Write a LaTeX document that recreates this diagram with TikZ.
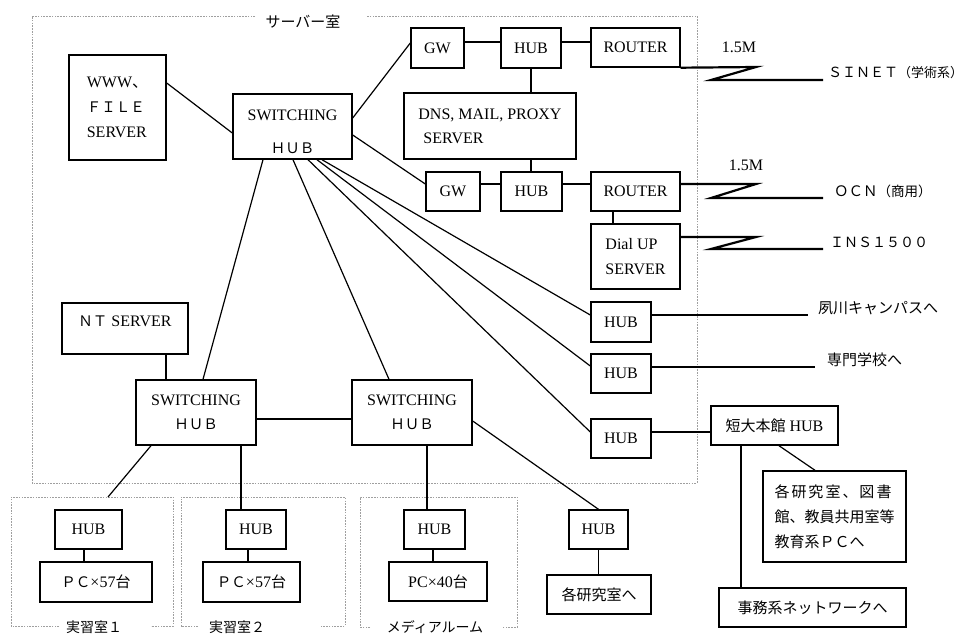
\documentclass[tikz,border=0pt]{standalone}
\usepackage{fontspec}
\setmainfont{Liberation Serif}
\newfontfamily\jp{Noto Sans CJK JP}
\newcommand\latsz{\fontsize{16}{26}\selectfont}
\newcommand\jpsz{\jp\fontsize{15}{24}\selectfont}
\newcommand\fw[1]{{\jp\fontsize{14.5}{26}\selectfont #1}}
\begin{document}
\begin{tikzpicture}[x=1pt,y=-1pt,
  box/.style={draw, line width=1.4pt, inner sep=0pt, align=center, font=\latsz},
  link/.style={line width=1.2pt},
  zig/.style={line width=2.2pt, line join=miter},
  room/.style={draw=gray!75, line width=0.8pt, dash pattern=on 1.6pt off 1.2pt},
  jtxt/.style={inner sep=0pt, font=\jpsz},
  rtxt/.style={inner sep=0pt, font=\jp\fontsize{14}{18}\selectfont},
  ltxt/.style={inner sep=0pt, font=\latsz}]
\useasboundingbox (0,0) rectangle (967,637);

% rooms
\draw[room] (255,16) -- (32,16) -- (32,483) -- (697,483) -- (697,16) -- (367,16);
\draw[room] (59,626) -- (11,626) -- (11,497) -- (173,497) -- (173,626) -- (151,626);
\draw[room] (198,626) -- (181,626) -- (181,497) -- (345,497) -- (345,626) -- (321,626);
\draw[room] (370,627) -- (360,627) -- (360,497) -- (517,497) -- (517,627) -- (503,627);
\node[jtxt] (rsrv) at (303,22) {サーバー室};
\node[rtxt] (rlab1) at (94,627) {実習室１};
\node[rtxt] (rlab2) at (237,627) {実習室２};
\node[rtxt] (rlab3) at (435,627) {メディアルーム};

% boxes
\node[box, minimum width=97, minimum height=105, align=left, font=\fontsize{16}{25}\selectfont] (www) at (117.5,107.5) {WWW{\jp 、}\\\fw{ＦＩＬＥ}\\SERVER};
\node[box, minimum width=119, minimum height=65] (sw0) at (292.5,126.5) {\rule{0pt}{21pt}SWITCHING\\[7pt]\fw{ＨＵＢ}};
\node[box, minimum width=53, minimum height=40] (gw1) at (437.5,48) {GW};
\node[box, minimum width=60, minimum height=40] (hub1) at (531,48) {HUB};
\node[box, minimum width=89, minimum height=39] (rt1) at (635.5,47.5) {ROUTER};
\node[box, minimum width=172, minimum height=66, align=left] (dns) at (490,126) {DNS, MAIL, PROXY\\[-2pt]\hspace*{5pt}SERVER};
\node[box, minimum width=54, minimum height=39] (gw2) at (453,191.5) {GW};
\node[box, minimum width=61, minimum height=39] (hub2) at (531.5,191.5) {HUB};
\node[box, minimum width=89, minimum height=39] (rt2) at (635.5,191.5) {ROUTER};
\node[box, minimum width=89, minimum height=65, align=left] (dial) at (635.5,256.5) {Dial UP\\[-1pt]SERVER};
\node[box, minimum width=126, minimum height=51, text depth=14pt] (nt) at (125,328.5) {\fw{ＮＴ} SERVER};
\node[box, minimum width=120, minimum height=65] (swl) at (196,412.5) {SWITCHING\\[-2pt]\fw{ＨＵＢ}};
\node[box, minimum width=120, minimum height=65] (swm) at (412,412.5) {SWITCHING\\[-2pt]\fw{ＨＵＢ}};
\node[box, minimum width=60, minimum height=40] (huba) at (621,322) {HUB};
\node[box, minimum width=60, minimum height=39] (hubb) at (621,373.5) {HUB};
\node[box, minimum width=60, minimum height=39] (hubc) at (621,438.5) {HUB};
\node[box, minimum width=127, minimum height=39] (tandai) at (774.5,425.5) {{\jpsz 短大本館}\ HUB};
\node[box, minimum width=67, minimum height=39] (hubl1) at (88.5,529.5) {HUB};
\node[box, minimum width=112, minimum height=40] (pc1) at (96,582) {\fw{ＰＣ}×57{\jpsz 台}};
\node[box, minimum width=60, minimum height=39] (hubl2) at (256,529.5) {HUB};
\node[box, minimum width=97, minimum height=40] (pc2) at (251.5,582) {\fw{ＰＣ}×57{\jpsz 台}};
\node[box, minimum width=61, minimum height=39] (hubl3) at (434.5,529.5) {HUB};
\node[box, minimum width=98, minimum height=39] (pc3) at (438,581.5) {PC×40{\jpsz 台}};
\node[box, minimum width=59, minimum height=39] (hubk) at (598.5,529.5) {HUB};
\node[box, minimum width=104, minimum height=39, font=\jpsz] (kaku) at (599,594.5) {各研究室へ};
\node[box, minimum width=143, minimum height=91, align=left, font=\jpsz] (edu) at (834.5,516.5) {各\kern2pt 研\kern2pt 究\kern2pt 室\kern2pt 、\kern2pt 図\kern2pt 書\\[1pt]館、教員共用室等\\[1pt]教育系ＰＣへ};
\node[box, minimum width=187, minimum height=39, font=\jpsz] (jimu) at (812.5,607.5) {事務系ネットワークへ};

% outside texts
\node[ltxt] (sp1) at (739,47) {1.5M};
\node[ltxt] (sp2) at (746,165) {1.5M};
\node[inner sep=0pt, anchor=west] (sinet) at (828,73) {{\jp\fontsize{14}{20}\selectfont ＳＩＮＥＴ}{\jp\fontsize{13}{20}\selectfont （学術系）}};
\node[inner sep=0pt, anchor=west] (ocn) at (834,191) {{\jp\fontsize{14.5}{20}\selectfont ＯＣＮ}{\jp\fontsize{13.5}{20}\selectfont （商用）}};
\node[inner sep=0pt, anchor=west, font=\jp\fontsize{14}{20}\selectfont] (ins) at (830,242) {ＩＮＳ１５００};
\node[jtxt, anchor=west] (kawa) at (818,308) {夙川キャンパスへ};
\node[jtxt, anchor=west] (senmon) at (827,360) {専門学校へ};

% connectors
\draw[link] (www.east |- 0,83) -- (sw0.west |- 0,133);
\draw[link] (sw0.east |- 0,118) -- (gw1.west |- 0,43);
\draw[link] (sw0.east |- 0,135) -- (gw2.west |- 0,184);
\draw[link] (gw1.east |- 0,42) -- (hub1.west |- 0,42);
\draw[link] (hub1.east |- 0,42) -- (rt1.west |- 0,42);
\draw[link] (hub1.south) -- (dns.north -| hub1.south);
\draw[link] (dns.south -| hub1.south) -- (hub2.north -| hub1.south);
\draw[link] (gw2.east |- 0,184) -- (hub2.west |- 0,184);
\draw[link] (hub2.east |- 0,184) -- (rt2.west |- 0,184);
\draw[link] (rt2.south -| 613,0) -- (dial.north -| 613,0);

\coordinate (za1) at (756,67); \coordinate (zb1) at (711,80); \coordinate (ze1) at (823,80);
\coordinate (za2) at (756,184); \coordinate (zb2) at (711,198); \coordinate (ze2) at (823,198);
\coordinate (za3) at (756,237); \coordinate (zb3) at (711,249); \coordinate (ze3) at (823,249);
\draw[zig] (rt1.south east) -- (za1) -- (zb1) -- (ze1);
\draw[zig] (rt2.east |- 0,184) -- (za2) -- (zb2) -- (ze2);
\draw[zig] (dial.east |- 0,237) -- (za3) -- (zb3) -- (ze3);

\draw[link] (sw0.south -| 322,0) -- (huba.west |- 0,315);
\draw[link] (sw0.south -| 317,0) -- (hubb.west |- 0,366);
\draw[link] (sw0.south -| 308,0) -- (hubc.west |- 0,432);
\draw[link] (sw0.south -| 293,0) -- (swm.north -| 389,0);
\draw[link] (sw0.south -| 263,0) -- (swl.north -| 203,0);
\draw[link] (nt.south -| 166,0) -- (swl.north -| 166,0);
\draw[link] (swl.east |- 0,419) -- (swm.west |- 0,419);
\draw[link] (swm.east |- 0,421) -- (hubk.north);
\coordinate (lab1top) at (108,497);
\draw[link] (swl.south -| 151,0) -- (lab1top);
\draw[link] (swl.south -| 241,0) -- (hubl2.north -| 241,0);
\draw[link] (swm.south -| 427,0) -- (hubl3.north -| 427,0);
\draw[link] (hubl1.south -| 84,0) -- (pc1.north -| 84,0);
\draw[link] (hubl2.south -| 248,0) -- (pc2.north -| 248,0);
\draw[link] (hubl3.south -| 433,0) -- (pc3.north -| 433,0);
\draw[link] (hubk.south) -- (kaku.north -| hubk.south);
\coordinate (kawaend) at (808,315);
\coordinate (senend) at (815,367);
\draw[link] (huba.east |- 0,315) -- (kawaend);
\draw[link] (hubb.east |- 0,367) -- (senend);
\draw[link] (hubc.east |- 0,432) -- (tandai.west |- 0,432);
\draw[link] (tandai.south -| 741,0) -- (jimu.north -| 741,0);
\draw[link] (tandai.south -| 779,0) -- (edu.north -| 815,0);
\end{tikzpicture}
\end{document}
